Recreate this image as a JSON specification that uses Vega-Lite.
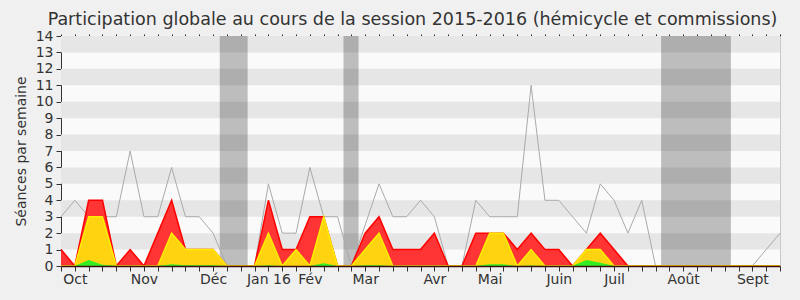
{
  "$schema": "https://vega.github.io/schema/vega-lite/v6.json",
  "width": 719,
  "height": 230,
  "autosize": {"type": "none"},
  "padding": {"left": 61, "top": 36, "right": 20, "bottom": 34},
  "background": "#f0f0f0",
  "title": {
    "text": "Participation globale au cours de la session 2015-2016 (hémicycle et commissions)",
    "font": "DejaVu Sans",
    "fontSize": 17.5,
    "fontWeight": "normal",
    "color": "#333333",
    "anchor": "middle",
    "dx": -8,
    "offset": 1
  },
  "config": {
    "view": {"stroke": null, "fill": "#fafafa"},
    "axis": {
      "labelFont": "DejaVu Sans",
      "labelFontSize": 14,
      "labelColor": "#333333",
      "titleFont": "DejaVu Sans",
      "titleFontSize": 14,
      "titleFontWeight": "normal",
      "titleColor": "#333333",
      "grid": false,
      "domainColor": "#333333",
      "tickColor": "#333333"
    }
  },
  "datasets": {
    "weeks": [
      {"i": 0, "grey": 3, "red": 1, "yel": 0, "grn": 0},
      {"i": 1, "grey": 4, "red": 0, "yel": 0, "grn": 0},
      {"i": 2, "grey": 3, "red": 4, "yel": 3, "grn": 0.36},
      {"i": 3, "grey": 3, "red": 4, "yel": 3, "grn": 0.08},
      {"i": 4, "grey": 3, "red": 0, "yel": 0, "grn": 0},
      {"i": 5, "grey": 7, "red": 1, "yel": 0, "grn": 0},
      {"i": 6, "grey": 3, "red": 0, "yel": 0, "grn": 0},
      {"i": 7, "grey": 3, "red": 2, "yel": 0, "grn": 0},
      {"i": 8, "grey": 6, "red": 4, "yel": 2, "grn": 0.1},
      {"i": 9, "grey": 3, "red": 1, "yel": 1, "grn": 0.05},
      {"i": 10, "grey": 3, "red": 1, "yel": 1, "grn": 0.05},
      {"i": 11, "grey": 2, "red": 1, "yel": 1, "grn": 0.05},
      {"i": 12, "grey": 0, "red": 0, "yel": 0, "grn": 0},
      {"i": 13, "grey": 0, "red": 0, "yel": 0, "grn": 0},
      {"i": 14, "grey": 0, "red": 0, "yel": 0, "grn": 0},
      {"i": 15, "grey": 5, "red": 4, "yel": 2, "grn": 0.05},
      {"i": 16, "grey": 2, "red": 1, "yel": 0, "grn": 0},
      {"i": 17, "grey": 2, "red": 1, "yel": 1, "grn": 0},
      {"i": 18, "grey": 6, "red": 3, "yel": 0, "grn": 0},
      {"i": 19, "grey": 3, "red": 3, "yel": 3, "grn": 0.16},
      {"i": 20, "grey": 3, "red": 0, "yel": 0, "grn": 0},
      {"i": 21, "grey": 0, "red": 0, "yel": 0, "grn": 0},
      {"i": 22, "grey": 2.5, "red": 2, "yel": 1, "grn": 0.05},
      {"i": 23, "grey": 5, "red": 3, "yel": 2, "grn": 0.05},
      {"i": 24, "grey": 3, "red": 1, "yel": 0, "grn": 0},
      {"i": 25, "grey": 3, "red": 1, "yel": 0, "grn": 0},
      {"i": 26, "grey": 4, "red": 1, "yel": 0, "grn": 0},
      {"i": 27, "grey": 3, "red": 2, "yel": 0, "grn": 0},
      {"i": 28, "grey": 0, "red": 0, "yel": 0, "grn": 0},
      {"i": 29, "grey": 0, "red": 0, "yel": 0, "grn": 0},
      {"i": 30, "grey": 4, "red": 2, "yel": 0, "grn": 0},
      {"i": 31, "grey": 3, "red": 2, "yel": 2, "grn": 0.1},
      {"i": 32, "grey": 3, "red": 2, "yel": 2, "grn": 0.1},
      {"i": 33, "grey": 3, "red": 1, "yel": 0, "grn": 0},
      {"i": 34, "grey": 11, "red": 2, "yel": 1, "grn": 0.03},
      {"i": 35, "grey": 4, "red": 1, "yel": 0, "grn": 0},
      {"i": 36, "grey": 4, "red": 1, "yel": 0, "grn": 0},
      {"i": 37, "grey": 3, "red": 0, "yel": 0, "grn": 0},
      {"i": 38, "grey": 2, "red": 1, "yel": 1, "grn": 0.36},
      {"i": 39, "grey": 5, "red": 2, "yel": 1, "grn": 0.2},
      {"i": 40, "grey": 4, "red": 1, "yel": 0, "grn": 0},
      {"i": 41, "grey": 2, "red": 0, "yel": 0, "grn": 0},
      {"i": 42, "grey": 4, "red": 0, "yel": 0, "grn": 0},
      {"i": 43, "grey": 0, "red": 0, "yel": 0, "grn": 0},
      {"i": 44, "grey": 0, "red": 0, "yel": 0, "grn": 0},
      {"i": 45, "grey": 0, "red": 0, "yel": 0, "grn": 0},
      {"i": 46, "grey": 0, "red": 0, "yel": 0, "grn": 0},
      {"i": 47, "grey": 0, "red": 0, "yel": 0, "grn": 0},
      {"i": 48, "grey": 0, "red": 0, "yel": 0, "grn": 0},
      {"i": 49, "grey": 0, "red": 0, "yel": 0, "grn": 0},
      {"i": 50, "grey": 0, "red": 0, "yel": 0, "grn": 0},
      {"i": 51, "grey": 1, "red": 0, "yel": 0, "grn": 0},
      {"i": 52, "grey": 2, "red": 0, "yel": 0, "grn": 0}
    ],
    "stripes": [
      {"lo": 1, "hi": 2},
      {"lo": 3, "hi": 4},
      {"lo": 5, "hi": 6},
      {"lo": 7, "hi": 8},
      {"lo": 9, "hi": 10},
      {"lo": 11, "hi": 12},
      {"lo": 13, "hi": 14}
    ],
    "vacances": [
      {"start": 11.48, "end": 13.5},
      {"start": 20.43, "end": 21.52},
      {"start": 43.4, "end": 48.45}
    ]
  },
  "resolve": {"axis": {"x": "independent", "y": "independent"}},
  "layer": [
    {
      "data": {"name": "stripes"},
      "mark": {"type": "rect", "color": "#e6e6e6"},
      "encoding": {
        "y": {"field": "lo", "type": "quantitative", "scale": {"domain": [0, 14], "nice": false, "zero": true}, "axis": null},
        "y2": {"field": "hi"}
      }
    },
    {
      "data": {"name": "vacances"},
      "mark": {"type": "rect", "color": "#000000", "opacity": 0.245},
      "encoding": {
        "x": {"field": "start", "type": "quantitative", "scale": {"domain": [0, 52], "nice": false, "zero": false}, "axis": null},
        "x2": {"field": "end"}
      }
    },
    {
      "data": {"name": "weeks"},
      "mark": {"type": "line", "color": "#aaaaaa", "strokeWidth": 1, "interpolate": "linear"},
      "encoding": {
        "x": {
          "field": "i", "type": "quantitative",
          "scale": {"domain": [0, 52], "nice": false, "zero": false},
          "axis": {
            "orient": "bottom",
            "title": null,
            "zindex": 1,
            "values": [0,1,2,3,4,5,6,7,8,9,10,11,12,13,14,15,16,17,18,19,20,21,22,23,24,25,26,27,28,29,30,31,32,33,34,35,36,37,38,39,40,41,42,43,44,45,46,47,48,49,50,51,52],
            "labelExpr": "datum.value === 1 ? 'Oct' : datum.value === 6 ? 'Nov' : datum.value === 11 ? 'Déc' : datum.value === 15 ? 'Jan 16' : datum.value === 18 ? 'Fév' : datum.value === 22 ? 'Mar' : datum.value === 27 ? 'Avr' : datum.value === 31 ? 'Mai' : datum.value === 36 ? 'Juin' : datum.value === 40 ? 'Juil' : datum.value === 45 ? 'Août' : datum.value === 50 ? 'Sept' : ''",
            "labelOverlap": false,
            "labelFlush": false,
            "labelPadding": 1,
            "tickSize": 5,
            "domainWidth": 1.5,
            "domainColor": "#3a1010"
          }
        },
        "y": {
          "field": "grey", "type": "quantitative",
          "scale": {"domain": [0, 14], "nice": false, "zero": true},
          "axis": {
            "orient": "left",
            "title": "Séances par semaine",
            "values": [0,1,2,3,4,5,6,7,8,9,10,11,12,13,14],
            "labelFlush": false,
            "labelOverlap": false,
            "labelPadding": 3,
            "tickSize": 5,
            "titlePadding": 7
          }
        }
      }
    },
    {
      "data": {"name": "weeks"},
      "mark": {"type": "area", "color": "#ff3535", "opacity": 1, "line": {"color": "#ff0000", "strokeWidth": 1.5}},
      "encoding": {
        "x": {
          "field": "i", "type": "quantitative",
          "scale": {"domain": [0, 52], "nice": false, "zero": false},
          "axis": {
            "orient": "top",
            "title": null,
            "labels": false,
            "domain": false,
            "values": [0,1,2,3,4,5,6,7,8,9,10,11,12,13,14,15,16,17,18,19,20,21,22,23,24,25,26,27,28,29,30,31,32,33,34,35,36,37,38,39,40,41,42,43,44,45,46,47,48,49,50,51,52],
            "tickSize": 2,
            "tickColor": "#222222"
          }
        },
        "y": {
          "field": "red", "type": "quantitative",
          "scale": {"domain": [0, 14], "nice": false, "zero": true},
          "axis": {
            "orient": "right",
            "title": null,
            "labels": false,
            "ticks": false,
            "domain": true,
            "domainColor": "#c8c8c8"
          }
        }
      }
    },
    {
      "data": {"name": "weeks"},
      "mark": {"type": "area", "color": "#ffd30f", "opacity": 1, "line": {"color": "#ffee00", "strokeWidth": 1.5}},
      "encoding": {
        "x": {"field": "i", "type": "quantitative", "scale": {"domain": [0, 52], "nice": false, "zero": false}, "axis": null},
        "y": {"field": "yel", "type": "quantitative", "scale": {"domain": [0, 14], "nice": false, "zero": true}, "axis": null}
      }
    },
    {
      "data": {"name": "weeks"},
      "mark": {"type": "area", "color": "#33ee22", "opacity": 1},
      "encoding": {
        "x": {"field": "i", "type": "quantitative", "scale": {"domain": [0, 52], "nice": false, "zero": false}, "axis": null},
        "y": {"field": "grn", "type": "quantitative", "scale": {"domain": [0, 14], "nice": false, "zero": true}, "axis": null}
      }
    }
  ]
}
